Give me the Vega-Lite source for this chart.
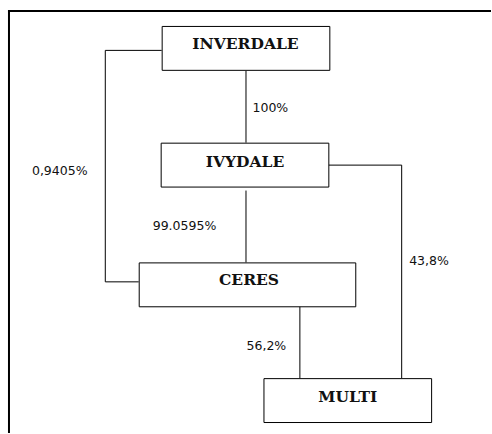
{
  "$schema": "https://vega.github.io/schema/vega-lite/v6.json",
  "width": 492,
  "height": 434,
  "padding": 0,
  "autosize": {"type": "fit", "contains": "padding"},
  "background": "white",
  "config": {"view": {"stroke": null}},
  "datasets": {
    "frame": [
      {"x": 8, "y": 11, "x2": 492, "y2": 11},
      {"x": 9, "y": 10, "x2": 9, "y2": 434}
    ],
    "edges": [
      {"x": 162, "y": 50.5, "x2": 105.5, "y2": 50.5},
      {"x": 105.5, "y": 50.5, "x2": 105.5, "y2": 282.5},
      {"x": 105.5, "y": 282.5, "x2": 139, "y2": 282.5},
      {"x": 246.5, "y": 71, "x2": 246.5, "y2": 143},
      {"x": 246.5, "y": 191, "x2": 246.5, "y2": 263},
      {"x": 329, "y": 165.5, "x2": 402.5, "y2": 165.5},
      {"x": 402.5, "y": 165.5, "x2": 402.5, "y2": 379},
      {"x": 300.5, "y": 307, "x2": 300.5, "y2": 379}
    ],
    "boxes": [
      {"name": "INVERDALE", "x1": 162.5, "x2": 330.5, "y1": 26.5, "y2": 70.5, "cx": 246, "cy": 44.5},
      {"name": "IVYDALE", "x1": 161.5, "x2": 329.5, "y1": 143.5, "y2": 187.5, "cx": 245.5, "cy": 162.5},
      {"name": "CERES", "x1": 139.5, "x2": 356.5, "y1": 263.5, "y2": 307.5, "cx": 249.5, "cy": 280.5},
      {"name": "MULTI", "x1": 264.5, "x2": 432.5, "y1": 379.5, "y2": 423.5, "cx": 348.5, "cy": 397.5}
    ],
    "labels": [
      {"text": "100%", "x": 253, "y": 108.5},
      {"text": "0,9405%", "x": 32, "y": 171},
      {"text": "99.0595%", "x": 153, "y": 226.5},
      {"text": "43,8%", "x": 410, "y": 262},
      {"text": "56,2%", "x": 247, "y": 347}
    ]
  },
  "resolve": {"scale": {"x": "shared", "y": "shared"}},
  "layer": [
    {
      "data": {"name": "frame"},
      "mark": {"type": "rule", "color": "black", "strokeWidth": 2},
      "encoding": {
        "x": {"field": "x", "type": "quantitative", "scale": {"domain": [0, 492], "nice": false, "zero": false}, "axis": null},
        "y": {"field": "y", "type": "quantitative", "scale": {"domain": [0, 434], "nice": false, "zero": false, "reverse": true}, "axis": null},
        "x2": {"field": "x2"},
        "y2": {"field": "y2"}
      }
    },
    {
      "data": {"name": "edges"},
      "mark": {"type": "rule", "color": "black", "strokeWidth": 1},
      "encoding": {
        "x": {"field": "x", "type": "quantitative", "axis": null},
        "y": {"field": "y", "type": "quantitative", "axis": null},
        "x2": {"field": "x2"},
        "y2": {"field": "y2"}
      }
    },
    {
      "data": {"name": "boxes"},
      "mark": {"type": "rect", "fill": "white", "stroke": "black", "strokeWidth": 1},
      "encoding": {
        "x": {"field": "x1", "type": "quantitative", "axis": null},
        "x2": {"field": "x2"},
        "y": {"field": "y1", "type": "quantitative", "axis": null},
        "y2": {"field": "y2"}
      }
    },
    {
      "data": {"name": "boxes"},
      "mark": {"type": "text", "font": "DejaVu Serif", "fontWeight": "bold", "fontSize": 15.5, "color": "#111111", "align": "center", "baseline": "middle"},
      "encoding": {
        "x": {"field": "cx", "type": "quantitative", "axis": null},
        "y": {"field": "cy", "type": "quantitative", "axis": null},
        "text": {"field": "name"}
      }
    },
    {
      "data": {"name": "labels"},
      "mark": {"type": "text", "font": "DejaVu Sans", "fontSize": 12.5, "color": "#111111", "align": "left", "baseline": "middle"},
      "encoding": {
        "x": {"field": "x", "type": "quantitative", "axis": null},
        "y": {"field": "y", "type": "quantitative", "axis": null},
        "text": {"field": "text"}
      }
    }
  ]
}
